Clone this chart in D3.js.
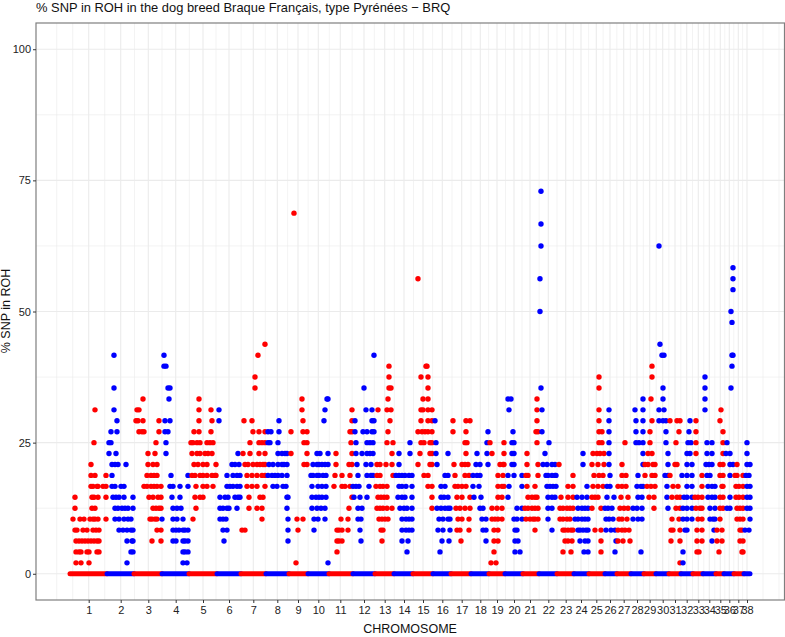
<!DOCTYPE html>
<html>
<head>
<meta charset="utf-8">
<script src="https://cdnjs.cloudflare.com/ajax/libs/d3/7.8.5/d3.min.js"></script>
<style>
body { margin: 0; background: #fff; }
text { font-family: "Liberation Sans", Arial, sans-serif; }
</style>
</head>
<body>
<script>
var w = 785, h = 637;

// x values are SNP rank along the genome (in blocks), y values are % SNP in ROH
var chromNames = ["1","2","3","4","5","6","7","8","9","10","11","12","13","14","15","16","17","18","19","20","21","22","23","24","25","26","27","28","29","30","31","32","33","34","35","36","37","38"];
var chromStart = [0,37,64,92,119,147,171,196,219,238,259,283,305,324,343,363,381,401,419,435,453,469,487,504,519,535,547,561,574,586,599,611,623,633,646,654,664,674];
var chromEnd = 680;
var chromTicks = [18.7,50.7,78.3,105.7,133,159,183.3,207.3,228,248.3,270.3,294,314.7,334,353,372.3,391.7,410.3,427,444,460,478.3,495.7,511,526.3,540,553.7,567,579.7,592.7,605,616.7,628.3,639.3,650.3,659.3,668.3,677];
var yTicks = [0,25,50,75,100];
var yMinor = [12.5,37.5,62.5,87.5];

var pct2 = [6,11,19,57,113,117,226,258,421,426,610,613];
var pct4 = [6,9,11,17,19,27,29,61,63,113,115,118,267,337,370,424,445,450,493,501,514,518,531,545,571,613,627,629,649,672,673];
var pct6 = [6,9,12,15,18,21,24,27,29,57,62,63,82,91,103,106,113,115,118,154,218,267,269,272,291,312,332,338,372,379,391,416,424,428,445,448,495,498,502,510,515,518,531,546,548,553,560,601,610,627,632,642,647,652,670,673];
var pct8 = [5,7,13,17,23,26,29,49,53,57,61,63,87,91,103,106,109,113,115,118,153,157,172,175,218,228,244,267,269,272,278,290,311,313,332,336,339,342,368,373,380,387,390,399,413,416,424,428,445,447,465,482,493,495,498,501,503,508,510,513,516,518,525,531,536,541,545,548,552,555,559,601,603,610,615,617,627,632,644,647,652,670,672,675,679];
var pct10 = [3,10,14,20,23,25,28,36,45,49,54,58,61,80,82,85,87,92,103,107,113,123,150,153,156,192,218,227,233,244,248,255,271,278,288,291,309,312,315,318,332,336,339,342,369,373,378,380,388,392,399,412,416,422,425,428,432,444,447,452,456,460,463,465,468,478,490,493,497,500,505,508,512,515,518,536,539,543,549,552,557,563,568,572,602,609,613,617,622,628,632,640,643,645,650,667,670,673,680];
var pct12 = [5,22,25,45,48,52,55,58,63,83,86,89,91,103,107,111,126,150,153,157,159,167,179,187,192,217,242,247,251,255,279,288,292,307,310,313,317,322,330,334,337,342,362,367,371,375,378,380,386,390,395,400,410,413,422,427,432,447,452,455,458,462,465,468,478,482,490,493,497,500,503,508,512,515,518,522,531,535,538,542,550,554,558,563,567,572,584,598,606,610,613,617,622,626,630,632,640,645,650,653,657,660,667,670,673,677,680];
var pct15 = [5,22,24,28,36,43,46,49,54,63,79,83,88,91,102,110,125,130,133,150,155,158,165,168,170,179,190,193,217,218,242,246,249,252,256,282,284,290,297,308,311,314,317,328,332,335,342,362,371,374,378,387,392,400,404,411,428,432,438,458,462,465,467,478,482,485,491,498,503,507,512,517,522,525,528,537,544,551,558,568,572,579,584,597,602,607,610,614,617,622,625,628,632,638,642,645,650,653,660,666,669,673,677,680];
var pct17 = [21,23,27,28,33,36,42,45,51,54,74,77,81,84,87,91,100,103,110,118,126,133,137,143,157,160,163,167,170,177,182,187,195,203,207,213,216,242,248,252,256,264,272,275,280,283,286,289,299,306,310,313,317,329,332,336,342,358,362,371,375,385,388,392,396,403,409,428,432,434,439,452,457,465,477,480,483,486,498,503,517,523,528,533,537,540,548,552,556,567,571,573,577,581,585,597,603,608,617,622,632,638,642,645,652,653,666,669,673,677,680];
var pct19 = [21,25,36,42,77,81,84,87,101,118,122,125,130,133,137,142,145,146,157,163,167,170,177,182,187,192,195,198,202,205,208,212,217,241,243,247,249,253,256,265,272,280,288,297,301,303,307,310,323,326,329,332,335,339,342,354,358,375,378,385,395,399,403,407,410,428,433,438,444,452,456,458,468,476,478,482,485,486,503,524,529,533,540,552,556,568,575,582,585,595,598,600,612,617,622,632,637,640,650,653,660,665,667,673,676,679];
var pct21 = [21,42,45,48,56,78,83,87,124,128,133,137,146,162,165,169,175,178,183,187,190,193,195,199,203,208,212,214,217,234,237,243,247,249,252,255,258,266,279,282,287,296,301,307,310,316,322,329,348,360,362,367,384,392,395,398,406,410,418,430,433,434,442,444,457,468,473,477,482,485,489,513,522,528,534,539,552,573,575,578,583,585,598,605,607,617,622,636,639,642,650,653,660,663,667,677,680];
var pct23 = [39,46,78,85,96,122,127,130,135,138,142,168,173,180,189,195,208,212,215,217,221,237,247,250,258,266,282,286,292,297,300,303,322,329,340,350,360,362,366,378,396,407,417,422,434,442,444,457,475,513,523,527,530,534,539,573,578,582,598,617,620,626,637,642,653,656,660,677];
var pct25 = [24,39,41,86,96,121,123,127,130,137,140,143,180,189,192,195,198,200,208,234,237,281,286,297,300,303,317,323,340,351,354,360,362,366,395,397,417,420,434,442,444,467,479,529,532,539,555,566,569,573,580,596,606,618,621,626,637,642,653,657,677];
var pct27 = [41,47,69,72,74,89,95,98,124,129,141,183,189,195,198,201,209,221,233,237,280,282,285,293,297,302,304,318,348,352,355,358,362,383,396,418,443,466,468,472,529,532,539,566,573,580,596,609,619,626,653];
var pct29 = [47,66,68,73,89,95,100,129,142,149,174,182,209,233,254,282,285,302,304,320,351,358,362,365,383,396,400,467,529,539,566,573,582,589,593,596,600,607,610,620,626,650];
var pct31 = [25,44,67,69,129,141,149,232,255,282,296,302,308,317,321,351,353,358,362,439,467,472,529,539,565,573,589,594,635,651];
var pct33 = [73,99,129,232,257,258,318,353,358,438,441,467,573,581,593,635];
var pct35 = [44,98,100,185,294,319,321,358,471,529,593,635,661];
var pct37 = [185,319,351,358,529,582,635];
var pct40 = [94,96,319,356,357,582,662];
var pct42 = [44,94,188,304,592,594,662,663];
var pct44 = [195,590];
var pct48 = [662];
var pct50 = [470,661];
var pct54 = [663];
var pct56 = [348,470,663];
var pct58 = [663];
var pct62 = [471,589];
var pct67 = [471];
var pct69 = [224];
var pct73 = [471];

var rows = [
    [2.08, pct2], [4.17, pct4], [6.25, pct6], [8.33, pct8], [10.42, pct10], [12.5, pct12], [14.58, pct15],
    [16.67, pct17], [18.75, pct19], [20.83, pct21], [22.92, pct23], [25, pct25], [27.08, pct27], [29.17, pct29],
    [31.25, pct31], [33.33, pct33], [35.42, pct35], [37.5, pct37], [39.58, pct40], [41.67, pct42], [43.75, pct44],
    [47.92, pct48], [50, pct50], [54.17, pct54], [56.25, pct56], [58.33, pct58], [62.5, pct62], [66.67, pct67],
    [68.75, pct69], [72.92, pct73]
];

var panel = {left: 36, right: 784.5, top: 23, bottom: 600};

var x = d3.scaleLinear().domain([0, chromEnd]).range([70, 750]);
var y = d3.scaleLinear().domain([-5, 105]).range([panel.bottom, panel.top]);

function chromColor(pos) {
    return d3.bisectRight(chromStart, pos) % 2 == 1 ? "#ff0000" : "#0000ff";
}

var svg = d3.select("body").append("svg").attr("width", w).attr("height", h);

// minor x grid sits halfway between ticks, plus one extra step either side
var step = chromTicks[1] - chromTicks[0];
var xBreaks = [chromTicks[0] - step].concat(chromTicks, [chromTicks[chromTicks.length - 1] + step]);
var xMinor = xBreaks.slice(0, 1).concat(d3.pairs(xBreaks).map(function(p) { return (p[0] + p[1]) / 2; }), xBreaks.slice(-1));

var grid = svg.append("g");
grid.selectAll(".vminor").data(xMinor).enter().append("line")
    .attr("x1", function(d) { return x(d); }).attr("x2", function(d) { return x(d); })
    .attr("y1", panel.top).attr("y2", panel.bottom)
    .attr("stroke", "#ebebeb").attr("stroke-width", 0.6);
grid.selectAll(".hminor").data(yMinor).enter().append("line")
    .attr("x1", panel.left).attr("x2", panel.right)
    .attr("y1", function(d) { return y(d); }).attr("y2", function(d) { return y(d); })
    .attr("stroke", "#ebebeb").attr("stroke-width", 0.6);
grid.selectAll(".vmajor").data(chromTicks).enter().append("line")
    .attr("x1", function(d) { return x(d); }).attr("x2", function(d) { return x(d); })
    .attr("y1", panel.top).attr("y2", panel.bottom)
    .attr("stroke", "#ebebeb").attr("stroke-width", 1.1);
grid.selectAll(".hmajor").data(yTicks).enter().append("line")
    .attr("x1", panel.left).attr("x2", panel.right)
    .attr("y1", function(d) { return y(d); }).attr("y2", function(d) { return y(d); })
    .attr("stroke", "#ebebeb").attr("stroke-width", 1.1);

// the 0 % row is an unbroken run of SNPs, one band per chromosome
var band = d3.line().x(function(d) { return x(d); }).y(y(0));
svg.append("g").selectAll("path").data(chromStart).enter().append("path")
    .attr("d", function(d, i) {
        var end = i < chromStart.length - 1 ? chromStart[i + 1] : chromEnd;
        return band([d, end]);
    })
    .attr("fill", "none")
    .attr("stroke", function(d) { return chromColor(d); })
    .attr("stroke-width", 5)
    .attr("stroke-linecap", "round");

// all other SNPs
var points = [];
rows.forEach(function(r) {
    r[1].forEach(function(pos) { points.push({pos: pos, pct: r[0]}); });
});
svg.append("g").selectAll("circle").data(points).enter().append("circle")
    .attr("cx", function(d) { return x(d.pos); })
    .attr("cy", function(d) { return y(d.pct); })
    .attr("r", 2.7)
    .attr("fill", function(d) { return chromColor(d.pos); });

// panel border
svg.append("rect")
    .attr("x", panel.left).attr("y", panel.top)
    .attr("width", panel.right - panel.left).attr("height", panel.bottom - panel.top)
    .attr("fill", "none").attr("stroke", "#7f7f7f").attr("stroke-width", 1.2);

// axes
var xAxis = d3.axisBottom(x).tickValues(chromTicks).tickSize(3).tickPadding(3)
    .tickFormat(function(d, i) { return chromNames[i]; });
var yAxis = d3.axisLeft(y).tickValues(yTicks).tickSize(3).tickPadding(2);

var gx = svg.append("g").attr("transform", "translate(0," + panel.bottom + ")").call(xAxis);
var gy = svg.append("g").attr("transform", "translate(" + panel.left + ",0)").call(yAxis);
gx.select(".domain").remove();
gy.select(".domain").remove();
svg.selectAll(".tick line").attr("stroke", "#333");
svg.selectAll(".tick text").attr("fill", "#222").style("font-size", "11px").style("font-family", '"Liberation Sans", Arial, sans-serif');

svg.append("text").attr("x", 36).attr("y", 12)
    .attr("fill", "#111").style("font-size", "12.9px")
    .text("% SNP in ROH in the dog breed Braque Français, type Pyrénées − BRQ");
svg.append("text").attr("x", 410).attr("y", 633)
    .attr("text-anchor", "middle").attr("fill", "#111").style("font-size", "12.5px")
    .text("CHROMOSOME");
svg.append("text").attr("transform", "translate(10,311) rotate(-90)")
    .attr("text-anchor", "middle").attr("fill", "#111").style("font-size", "12.5px")
    .text("% SNP in ROH");
</script>
</body>
</html>
